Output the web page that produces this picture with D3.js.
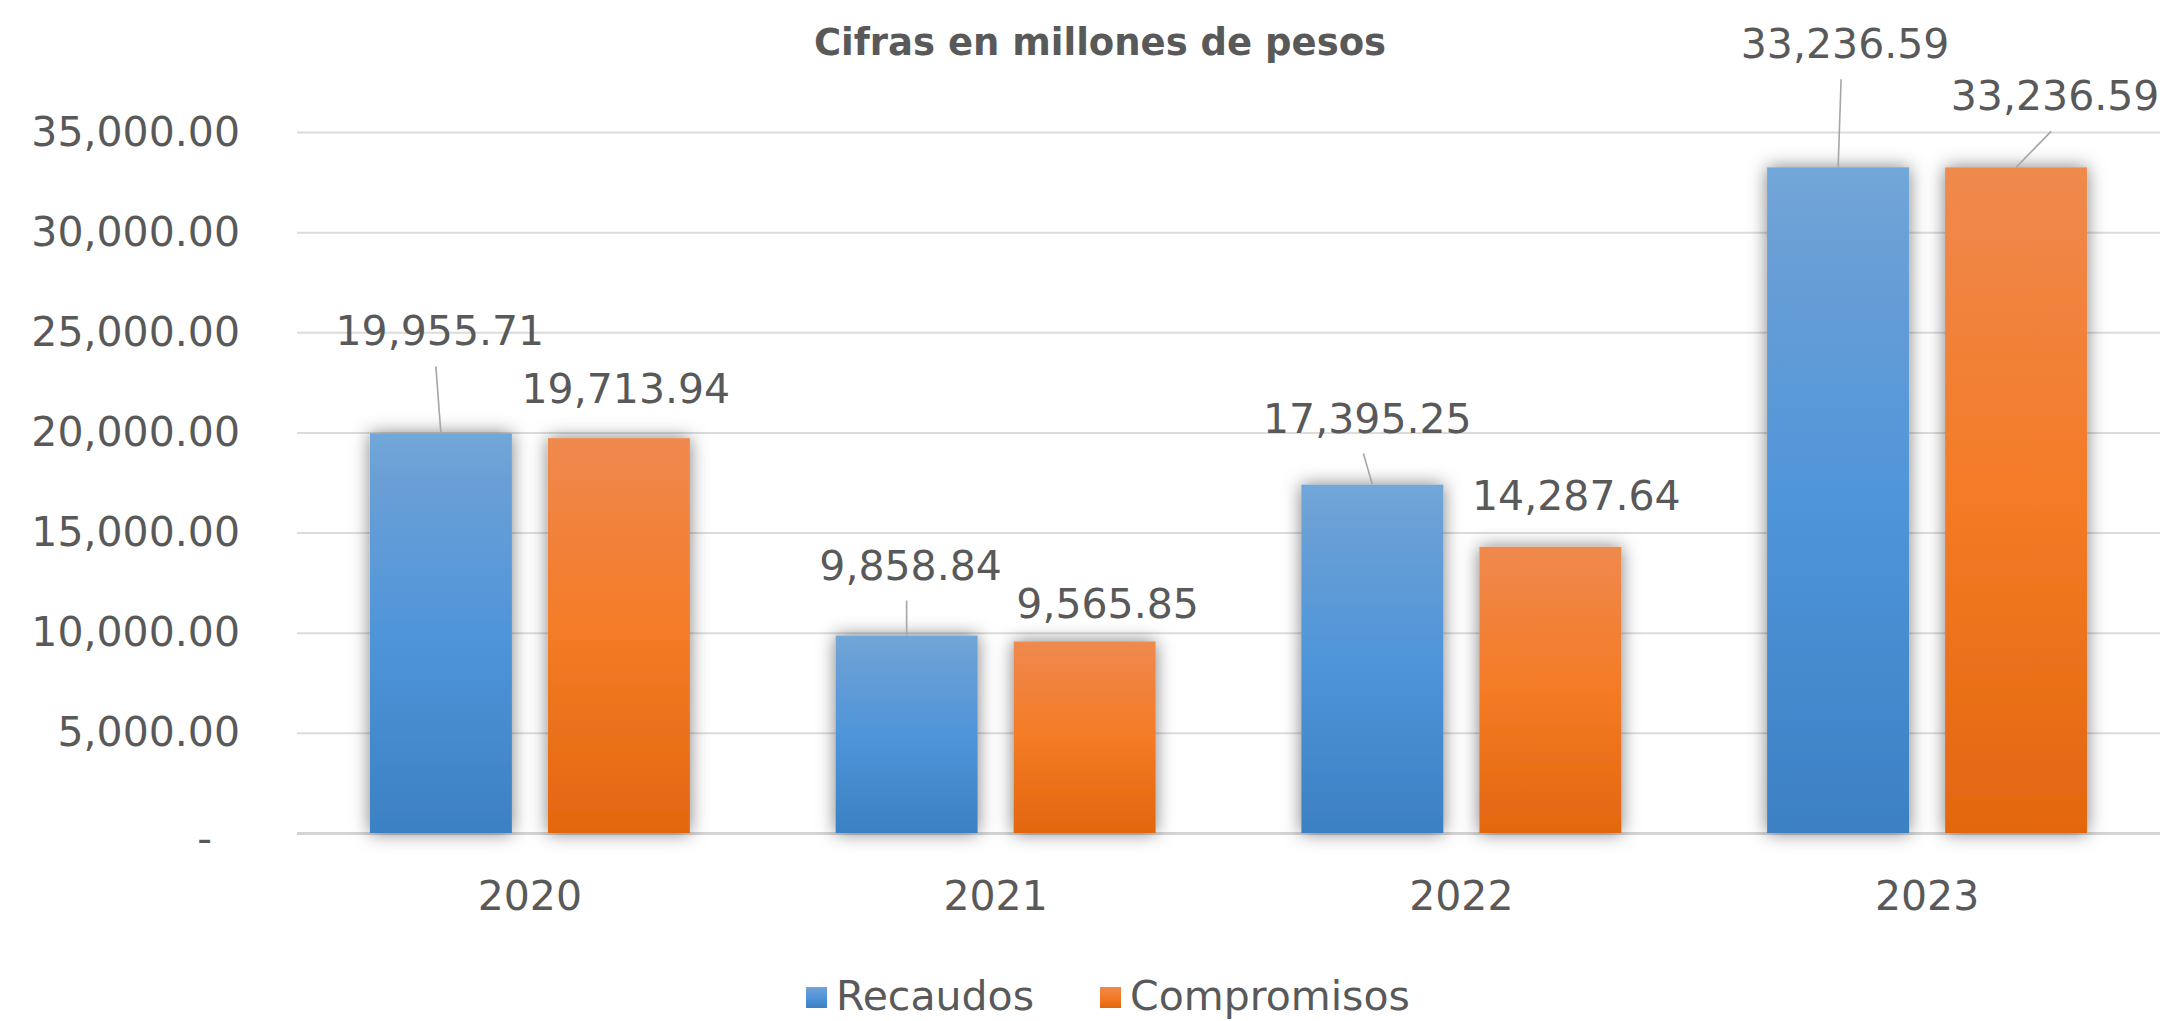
<!DOCTYPE html>
<html>
<head>
<meta charset="utf-8">
<script src="https://cdn.jsdelivr.net/npm/d3@7"></script>
<style>
  html, body { margin: 0; padding: 0; background: #ffffff; }
  svg { display: block; }
  text { font-family: "DejaVu Sans", sans-serif; fill: #595959; }
</style>
</head>
<body>
<svg id="chart" width="2174" height="1021"></svg>
<script>
// ---- data ----
const years = ["2020", "2021", "2022", "2023"];
const seriesNames = ["Recaudos", "Compromisos"];
const recaudos = [19955.71, 9858.84, 17395.25, 33236.59];
const compromisos = [19713.94, 9565.85, 14287.64, 33236.59];
const yTickValues = [0, 5000, 10000, 15000, 20000, 25000, 30000, 35000];
const yTickLabels = ["-", "5,000.00", "10,000.00", "15,000.00", "20,000.00", "25,000.00", "30,000.00", "35,000.00"];
const titleText = "Cifras en millones de pesos";

// ---- label placement (pixel nudges from bar top centre, leader flag) ----
const labelNudge = {
  Recaudos:    [[-1, -88, true], [4, -56, true], [-5, -52, true], [7, -109, true]],
  Compromisos: [[7, -35, false], [23, -23, false], [26, -37, false], [39, -57, true]]
};

const seriesValues = { Recaudos: recaudos, Compromisos: compromisos };
const plot = { left: 297, right: 2160, top: 132, bottom: 833 };

const svg = d3.select("#chart");

// gradients + shadow
const defs = svg.append("defs");
const grads = {
  Recaudos: [["0%", "#72a7d9"], ["12%", "#6a9fd6"], ["50%", "#4f95d9"], ["100%", "#3d80c4"]],
  Compromisos: [["0%", "#ef8a4e"], ["12%", "#f08544"], ["50%", "#f47b25"], ["100%", "#e3660f"]]
};
Object.entries(grads).forEach(([k, stops]) => {
  const g = defs.append("linearGradient").attr("id", "g-" + k)
    .attr("x1", 0).attr("y1", 0).attr("x2", 0).attr("y2", 1);
  stops.forEach(s => g.append("stop").attr("offset", s[0]).attr("stop-color", s[1]));
});
const f = defs.append("filter").attr("id", "shadow")
  .attr("x", "-40%").attr("y", "-10%").attr("width", "180%").attr("height", "120%");
f.append("feDropShadow").attr("dx", 0).attr("dy", 0).attr("stdDeviation", 9)
  .attr("flood-color", "#000").attr("flood-opacity", 0.5);

// scales
const x0 = d3.scaleBand().domain(years).range([plot.left, plot.right]).paddingInner(0).paddingOuter(0);
const x1 = d3.scaleBand().domain(seriesNames).range([0, x0.bandwidth()])
  .paddingInner(0.2022).paddingOuter(0.4094);
const y = d3.scaleLinear().domain([0, 35000]).range([plot.bottom, plot.top]);

// gridlines
const yAxis = d3.axisLeft(y).tickValues(yTickValues)
  .tickSize(-(plot.right - plot.left))
  .tickFormat((d, i) => yTickLabels[i]);
const gy = svg.append("g").attr("transform", `translate(${plot.left},0)`).call(yAxis);
gy.select(".domain").remove();
gy.selectAll(".tick line")
  .attr("stroke", d => d === 0 ? "#d4d4d4" : "#dcdcdc")
  .attr("stroke-width", d => d === 0 ? 3 : 2);
gy.selectAll(".tick text")
  .attr("x", -57)
  .attr("dx", d => d === 0 ? -28 : 0)
  .attr("dy", d => d === 0 ? 19 : 13)
  .attr("font-size", 41)
  .attr("text-anchor", "end")
  .style("fill", "#595959");

// x axis labels
const xAxis = d3.axisBottom(x0).tickSize(0).tickPadding(0);
const gx = svg.append("g").attr("transform", `translate(0,${plot.bottom})`).call(xAxis);
gx.select(".domain").remove();
gx.selectAll(".tick text")
  .attr("y", 0).attr("dy", 77)
  .attr("font-size", 41)
  .style("fill", "#595959");

// bars
const rows = years.map((yr, i) => ({ year: yr, items: seriesNames.map(s => ({ s, v: seriesValues[s][i], i })) }));
const groups = svg.append("g").selectAll("g").data(rows).join("g")
  .attr("transform", d => `translate(${x0(d.year)},0)`);
groups.selectAll("rect").data(d => d.items).join("rect")
  .attr("x", d => x1(d.s))
  .attr("width", x1.bandwidth())
  .attr("y", d => y(d.v))
  .attr("height", d => y(0) - y(d.v))
  .attr("fill", d => `url(#g-${d.s})`)
  .attr("filter", "url(#shadow)");

// data labels & leaders
const fmt = d3.format(",.2f");
const labelLayer = svg.append("g");
rows.forEach(r => r.items.forEach(d => {
  const cx = x0(r.year) + x1(d.s) + x1.bandwidth() / 2;
  const top = y(d.v);
  const [dx, dy, leader] = labelNudge[d.s][d.i];
  const lx = cx + dx, ly = top + dy;
  if (leader) {
    labelLayer.append("line")
      .attr("x1", lx - 4).attr("y1", ly + 21)
      .attr("x2", cx).attr("y2", top)
      .attr("stroke", "#a6a6a6").attr("stroke-width", 1.6);
  }
  labelLayer.append("text")
    .attr("x", lx).attr("y", ly)
    .attr("text-anchor", "middle")
    .attr("font-size", 41)
    .text(fmt(d.v));
}));

// title
svg.append("text")
  .attr("x", 1100).attr("y", 55)
  .attr("text-anchor", "middle")
  .attr("font-size", 37)
  .attr("font-weight", "bold")
  .text(titleText);

// legend
const legend = svg.append("g").attr("transform", "translate(806,0)");
const legItems = [
  { s: "Recaudos", x: 0 },
  { s: "Compromisos", x: 294 }
];
legItems.forEach(it => {
  legend.append("rect")
    .attr("x", it.x).attr("y", 987).attr("width", 21).attr("height", 21)
    .attr("fill", `url(#g-${it.s})`);
  legend.append("text")
    .attr("x", it.x + 30).attr("y", 1010)
    .attr("font-size", 41)
    .text(it.s);
});
</script>
</body>
</html>
